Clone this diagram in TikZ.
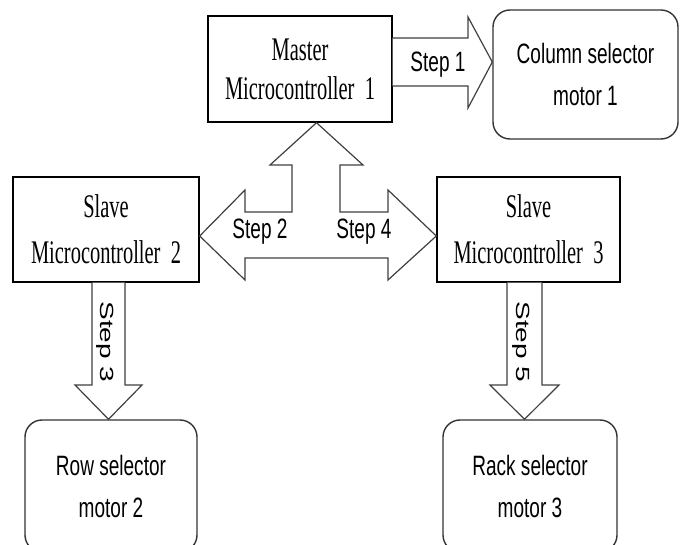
\documentclass[tikz,border=0pt]{standalone}
\usepackage{fontspec}
\newfontfamily\boxserif[FakeStretch=0.62]{Liberation Serif}
\newfontfamily\boxsans[FakeStretch=0.68]{Liberation Sans}
\newfontfamily\plainsans{Liberation Sans}
\begin{document}
\begin{tikzpicture}[x=1pt,y=-1pt,
  ctrl/.style={draw=black, line width=1.4pt, rectangle, inner sep=0pt, align=center,
    font=\boxserif\fontsize{33}{46}\selectfont},
  motor/.style={draw=black!80, line width=1.4pt, rectangle, rounded corners=17pt, inner sep=0pt, align=center,
    font=\boxsans\fontsize{28}{42}\selectfont},
  blockarrow/.style={draw=black!75, line width=1.2pt, fill=white, line join=miter},
  steplbl/.style={font=\boxsans\fontsize{28}{28}\selectfont, inner sep=0pt}]
\useasboundingbox (0,0) rectangle (683,545);
\clip (0,0) rectangle (683,545);

% boxes
\node[ctrl, minimum width=184pt, minimum height=106pt, font=\boxserif\fontsize{33}{39}\selectfont] (master) at (300,69) {Master\\Microcontroller\ \ 1};
\node[motor, minimum width=185pt, minimum height=129pt] (col) at (585.5,74.5) {Column selector\\motor 1};
\node[ctrl, minimum width=186pt, minimum height=105pt] (s2) at (106,229.5) {Slave\\Microcontroller\ \ 2};
\node[ctrl, minimum width=183pt, minimum height=105pt] (s3) at (528.5,229.5) {Slave\\Microcontroller\ \ 3};
\node[motor, minimum width=172pt, minimum height=132pt] (row) at (111,486) {Row selector\\motor 2};
\node[motor, minimum width=174pt, minimum height=132pt] (rack) at (530,486) {Rack selector\\motor 3};

% Step 1 arrow
\draw[blockarrow] (master.east |- 0,38) -- (468,38) -- (468,17) -- (col.west |- 0,62)
  -- (468,108) -- (468,86) -- (master.east |- 0,86);
\node[steplbl] (st1) at (438,65) {Step 1};

% T arrow (Step 2 / Step 4)
\draw[blockarrow] (s2.east |- 0,236) -- (245,190) -- (245,212) -- (292,212) -- (292,165) -- (270,165)
  -- (master.south -| 316.5,0) -- (363,165) -- (340,165) -- (340,212) -- (388,212) -- (388,190)
  -- (s3.west |- 0,236) -- (388,280) -- (388,258) -- (245,258) -- (245,280) -- cycle;
\node[steplbl] (st2) at (260,232) {Step 2};
\node[steplbl] (st4) at (364,232) {Step 4};

% Step 3 arrow
\draw[blockarrow] (s2.south -| 92,0) -- (92,385) -- (75,385) -- (row.north -| 108.5,0)
  -- (142,385) -- (125,385) -- (s2.south -| 125,0);
\node[inner sep=0pt] (st3) at (105,342) {\rotatebox{-90}{\scalebox{1}[0.68]{\plainsans\fontsize{28}{28}\selectfont Step 3}}};

% Step 5 arrow
\draw[blockarrow] (s3.south -| 507,0) -- (507,385) -- (490,385) -- (rack.north -| 524.5,0)
  -- (559,385) -- (542,385) -- (s3.south -| 542,0);
\node[inner sep=0pt] (st5) at (521,342) {\rotatebox{-90}{\scalebox{1}[0.68]{\plainsans\fontsize{28}{28}\selectfont Step 5}}};
\end{tikzpicture}
\end{document}
